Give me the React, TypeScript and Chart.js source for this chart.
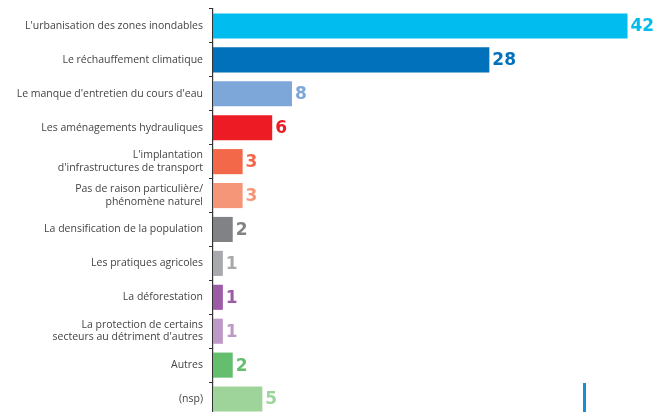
import React, { useEffect, useRef } from "react";
import { Chart, registerables } from "chart.js";

Chart.register(...registerables);

const categories: (string | string[])[] = [
  "L'urbanisation des zones inondables",
  "Le réchauffement climatique",
  "Le manque d'entretien du cours d'eau",
  "Les aménagements hydrauliques",
  ["L'implantation", "d'infrastructures de transport"],
  ["Pas de raison particulière/", "phénomène naturel"],
  "La densification de la population",
  "Les pratiques agricoles",
  "La déforestation",
  ["La protection de certains", "secteurs au détriment d'autres"],
  "Autres",
  "(nsp)",
];

const values: number[] = [42, 28, 8, 6, 3, 3, 2, 1, 1, 1, 2, 5];

const colors: string[] = [
  "#00BCEF",
  "#0071BA",
  "#7DA7D9",
  "#ED1C24",
  "#F26849",
  "#F69679",
  "#808285",
  "#A7A9AC",
  "#9B5BA5",
  "#BE98C6",
  "#65BE6E",
  "#9ED49A",
];

const valueLabelPlugin = {
  id: "valueLabels",
  afterDatasetsDraw(chart: any) {
    const ctx = chart.ctx;
    const meta = chart.getDatasetMeta(0);
    ctx.save();
    ctx.font = "bold 17px 'DejaVu Sans', sans-serif";
    ctx.textAlign = "left";
    ctx.textBaseline = "middle";
    meta.data.forEach((bar: any, i: number) => {
      ctx.fillStyle = colors[i];
      ctx.fillText(String(values[i]), bar.x + 3, bar.y + 1);
    });
    ctx.restore();
  },
};

export default function App() {
  const ref = useRef<HTMLCanvasElement>(null);
  useEffect(() => {
    document.body.style.margin = "0";
    document.body.style.overflow = "hidden";
    const chart = new Chart(ref.current!, {
      type: "bar",
      data: {
        labels: categories,
        datasets: [
          {
            data: values,
            backgroundColor: colors,
            barPercentage: 0.74,
            categoryPercentage: 1,
          },
        ],
      },
      options: {
        indexAxis: "y",
        animation: false,
        responsive: false,
        maintainAspectRatio: false,
        layout: { padding: { top: 9, right: 2, bottom: 0, left: 0 } },
        plugins: { legend: { display: false }, tooltip: { enabled: false } },
        scales: {
          x: { display: false, min: 0, max: 46 },
          y: {
            afterFit(scale: any) {
              scale.width = 213;
              scale.paddingTop = 0;
              scale.paddingBottom = 0;
            },
            border: { display: true, color: "#333", width: 1.2 },
            grid: {
              display: true,
              drawOnChartArea: false,
              drawTicks: true,
              tickLength: 4,
              color: "#333",
              offset: true,
            },
            ticks: {
              color: "#444",
              padding: 6,
              font: { family: "'Open Sans', sans-serif", size: 10.5 },
            },
          },
        },
      },
      plugins: [valueLabelPlugin],
    });
    return () => chart.destroy();
  }, []);
  return (
    <div style={{ position: "relative", width: 669, height: 412, overflow: "hidden", background: "#fff" }}>
      <canvas ref={ref} width={669} height={416} style={{ position: "absolute", left: 0, top: 0 }} />
      <div style={{ position: "absolute", left: 583, top: 383, width: 3, height: 29, background: "#1A8FD0" }} />
    </div>
  );
}
